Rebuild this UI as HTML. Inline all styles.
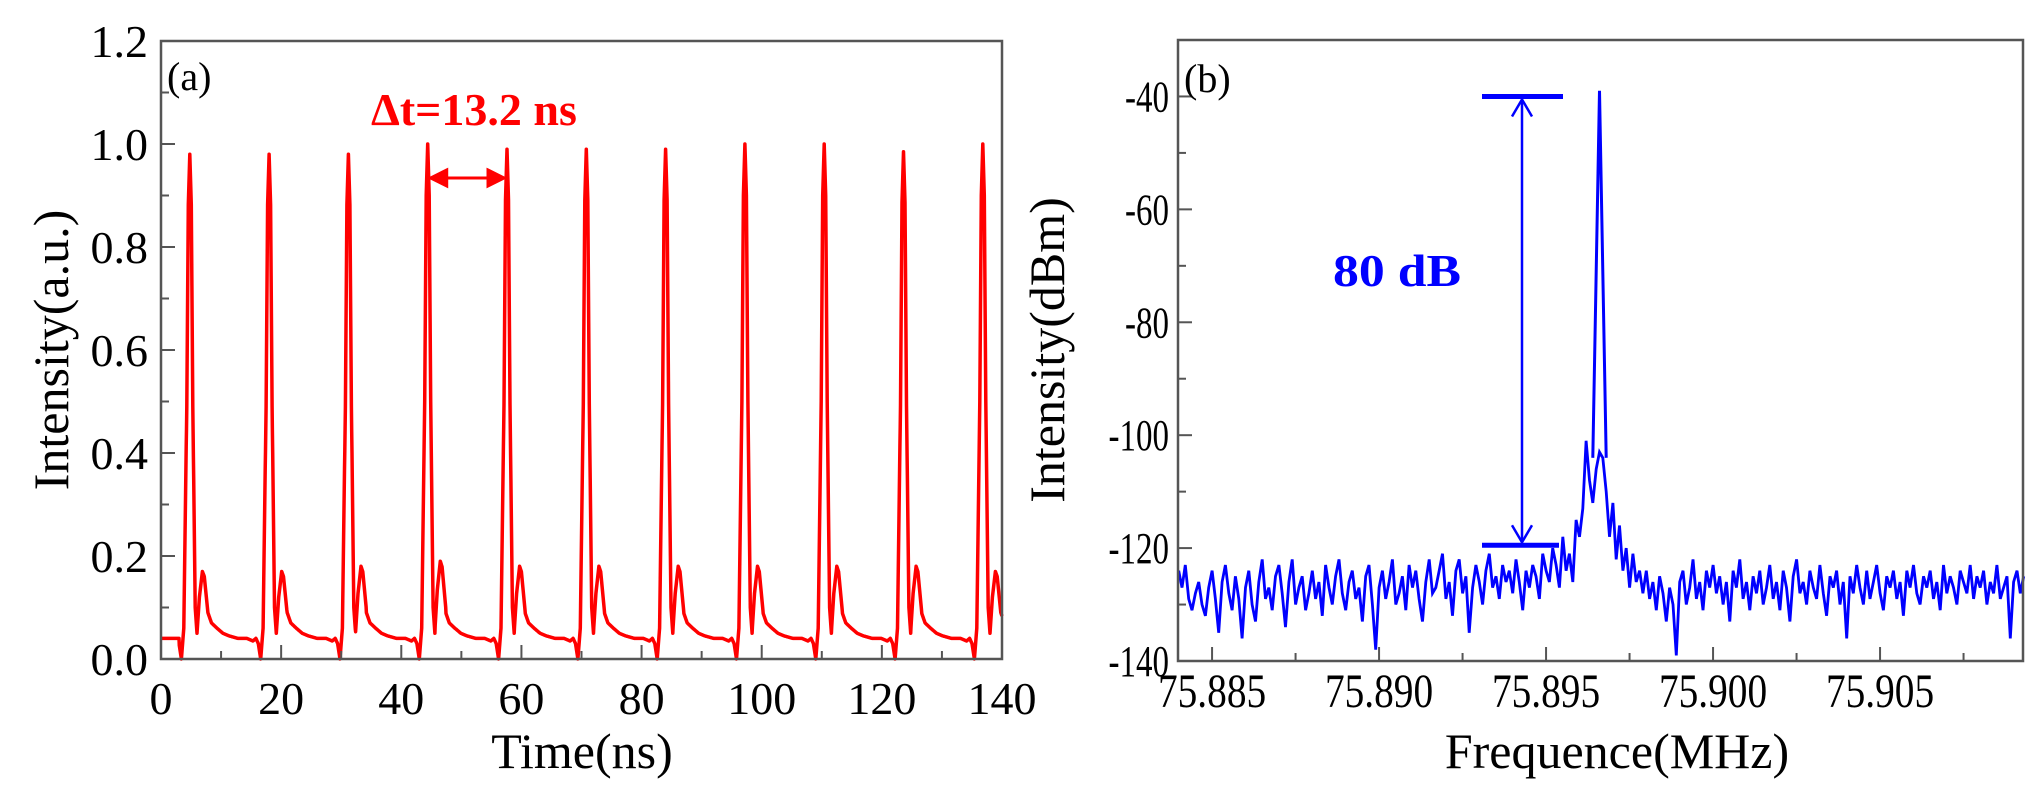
<!DOCTYPE html>
<html><head><meta charset="utf-8"><style>
html,body{margin:0;padding:0;background:#fff;}
svg{display:block;font-family:"Liberation Serif",serif;}
</style></head><body>
<svg id="fig" width="2044" height="803" viewBox="0 0 2044 803" xmlns="http://www.w3.org/2000/svg">
<g id="pa"></g>
<g id="pb"></g>
</svg>
<script>
// ---- Panel (a) data ----
const aXTicks = [0,20,40,60,80,100,120,140];
const aYTicks = [0.0,0.2,0.4,0.6,0.8,1.0,1.2];
const aYTickLabels = ["0.0","0.2","0.4","0.6","0.8","1.0","1.2"];
const peakTimes = [4.8,18.0,31.2,44.4,57.6,70.8,84.0,97.2,110.4,123.6,136.8];
const peakHeights = [0.98,0.98,0.98,1.0,0.99,0.99,0.99,1.0,1.0,0.985,1.0];
const satHeights = [0.17,0.17,0.18,0.19,0.18,0.18,0.18,0.18,0.18,0.18,0.17];
const tplDt = [-1.8,-1.4,-1.0,-0.5,-0.25,0,0.25,0.5,0.9,1.2,1.6,2.1,2.4,3.0,3.6,4.5,5.5,6.5,8,9.5,10.5,11.0,11.4];
const tplVal = [0.03,0.0,0.06,0.5,0.9,1,0.9,0.5,0.1,0.05,0.12,0.17,0.16,0.09,0.07,0.06,0.05,0.045,0.04,0.04,0.035,0.04,0.03];
// ---- Panel (b) data ----
const bXTicks = [75.885,75.890,75.895,75.900,75.905];
const bXTickLabels = ["75.885","75.890","75.895","75.900","75.905"];
const bYTicks = [-140,-120,-100,-80,-60,-40];
const noiseStart = 75.8840, noiseStep = 0.0001;
const noiseDb = [-124,-127,-123,-129,-131,-128,-126,-130,-132,-127,-124,-129,-135,-126,-123,-128,-131,-125,-129,-136,
-127,-124,-130,-133,-126,-122,-129,-127,-131,-125,-123,-128,-134,-126,-122,-130,-127,-125,-131,-128,
-124,-129,-126,-132,-123,-127,-130,-125,-122,-128,-131,-126,-124,-129,-127,-133,-125,-123,-130,-138,
-127,-124,-129,-126,-122,-130,-128,-125,-131,-123,-127,-124,-129,-133,-126,-122,-128,-127,-124,-121,
-129,-126,-132,-124,-122,-128,-125,-135,-127,-123,-126,-130,-124,-121,-127,-125,-129,-123,-126,-124,
-128,-122,-126,-131,-124,-127,-123,-125,-129,-121,-124,-126,-120,-123,-127,-118,-124,-121,-126,-115,
-118,-113,-101,-108,-112,-106,-103,-104,-110,-118,-112,-122,-116,-124,-120,-127,-121,-126,-124,-128,
-124,-129,-126,-131,-125,-128,-133,-127,-130,-139,-126,-124,-130,-127,-122,-129,-126,-131,-124,-127,
-123,-128,-125,-130,-126,-133,-124,-127,-122,-129,-126,-131,-125,-128,-124,-130,-127,-123,-129,-126,
-131,-124,-127,-133,-125,-122,-128,-126,-130,-124,-127,-129,-123,-128,-132,-125,-127,-124,-130,-126,
-136,-125,-128,-123,-127,-130,-124,-129,-126,-123,-128,-131,-125,-127,-124,-129,-126,-132,-124,-127,
-123,-128,-130,-125,-127,-124,-129,-126,-131,-123,-128,-125,-127,-130,-124,-126,-128,-123,-129,-125,
-127,-124,-130,-126,-128,-123,-129,-127,-125,-136,-126,-124,-128,-125];
const carrierF = [75.8964,75.8966,75.8968];
const carrierDb = [-104,-39,-104];

const NS="http://www.w3.org/2000/svg";
function mk(parent,tag,attrs,text){const e=document.createElementNS(NS,tag);for(const k in attrs)e.setAttribute(k,attrs[k]);if(text!==undefined)e.textContent=text;parent.appendChild(e);return e;}

// ---- Panel a ----
const pa=document.getElementById('pa');
const aL=161,aR=1002,aT=41,aB=659;
const ax=t=>aL+(t-0)/140*(aR-aL);
const ay=v=>aB-(v-0)/1.2*(aB-aT);
function tpl(dt){if(dt<tplDt[0]||dt>tplDt[tplDt.length-1])return null;for(let i=0;i<tplDt.length-1;i++){if(dt>=tplDt[i]&&dt<=tplDt[i+1]){const f=(dt-tplDt[i])/(tplDt[i+1]-tplDt[i]);return [tplVal[i]+f*(tplVal[i+1]-tplVal[i]),tplDt[i],tplDt[i+1]];}}return null;}
let dA="";
for(let t=0;t<=140.001;t+=0.05){
  let v=0.04;
  for(let i=0;i<peakTimes.length;i++){
    const dt=t-peakTimes[i];const r=tpl(dt);
    if(r){v=r[0];if(dt>-0.6&&dt<0.6)v*=peakHeights[i];else if(dt>1.2&&dt<3.0)v*=satHeights[i]/0.17;break;}
  }
  dA+=(dA?"L":"M")+ax(t).toFixed(1)+","+ay(v).toFixed(1);
}
const sa=mk(pa,'path',{d:dA,fill:'none',stroke:'#ff0000','stroke-width':3.5,'stroke-linejoin':'round'});


const fa=mk(pa,'rect',{x:aL,y:aT,width:aR-aL,height:aB-aT,fill:'none',stroke:'#555','stroke-width':2.5});


for(let t=0;t<=140;t+=10){const maj=t%20===0;mk(pa,'line',{x1:ax(t),x2:ax(t),y1:aB,y2:aB-(maj?14:8),stroke:'#555','stroke-width':2});}
for(let i=0;i<=12;i++){const v=i*0.1;const maj=i%2===0;mk(pa,'line',{x1:aL,x2:aL+(maj?14:8),y1:ay(v),y2:ay(v),stroke:'#555','stroke-width':2});}
aXTicks.forEach(t=>{const e=mk(pa,'text',{x:ax(t),y:714,'font-size':46,'text-anchor':'middle'},String(t));});
aYTicks.forEach((v,i)=>{const e=mk(pa,'text',{x:148,y:ay(v)+16,'font-size':46,'text-anchor':'end'},aYTickLabels[i]);});
let e;
e=mk(pa,'text',{x:582,y:768,'font-size':50,'text-anchor':'middle'},'Time(ns)');
e=mk(pa,'text',{x:0,y:0,'font-size':50,'text-anchor':'middle',transform:'translate(68,350) rotate(-90)'},'Intensity(a.u.)');
e=mk(pa,'text',{x:167,y:90,'font-size':40},'(a)');
e=mk(pa,'text',{x:371,y:125,'font-size':46,'font-weight':'bold',fill:'#ff0000'},'Δt=13.2 ns');
const arY=178,x1=ax(peakTimes[3])+3,x2=ax(peakTimes[4])-3;
e=mk(pa,'g',{stroke:'#ff0000','stroke-width':3,fill:'none'});
mk(e,'line',{x1:x1,x2:x2,y1:arY,y2:arY});
mk(e,'path',{d:`M${x1+16},${arY-8}L${x1},${arY}L${x1+16},${arY+8}Z`,fill:'#ff0000'});
mk(e,'path',{d:`M${x2-16},${arY-8}L${x2},${arY}L${x2-16},${arY+8}Z`,fill:'#ff0000'});

// ---- Panel b ----
const pb=document.getElementById('pb');
const bL=1178,bR=2023,bT=40,bB=661;
const bxMin=75.88398,bxMax=75.90928;
const bx=f=>bL+(f-bxMin)/(bxMax-bxMin)*(bR-bL);
const by=d=>bB-(d+140)/110*(bB-bT);
let dB="";
noiseDb.forEach((v,i)=>{const f=noiseStart+i*noiseStep;dB+=(dB?"L":"M")+bx(f).toFixed(1)+","+by(v).toFixed(1);});
const sb=mk(pb,'path',{d:dB,fill:'none',stroke:'#0000ff','stroke-width':2.8,'stroke-linejoin':'miter'});


let dC="";carrierF.forEach((f,i)=>{dC+=(dC?"L":"M")+bx(f).toFixed(1)+","+by(carrierDb[i]).toFixed(1);});
const sc=mk(pb,'path',{d:dC,fill:'none',stroke:'#0000ff','stroke-width':3});


const fb=mk(pb,'rect',{x:bL,y:bT,width:bR-bL,height:bB-bT,fill:'none',stroke:'#555','stroke-width':2.5});


for(let k=0;k<10;k++){const f=75.885+k*0.0025;if(f>bxMax)break;const maj=k%2===0;mk(pb,'line',{x1:bx(f),x2:bx(f),y1:bB,y2:bB-(maj?14:8),stroke:'#555','stroke-width':2});}
for(let d=-140;d<=-30;d+=10){const maj=d%20===0;mk(pb,'line',{x1:bL,x2:bL+(maj?14:8),y1:by(d),y2:by(d),stroke:'#555','stroke-width':2});}
bXTicks.forEach((f,i)=>{const t=mk(pb,'text',{x:bx(f),y:707,'font-size':48,'text-anchor':'middle',transform:`translate(${bx(f)*0.18},0) scale(0.82,1)`},bXTickLabels[i]);});
bYTicks.forEach(d=>{const t=mk(pb,'text',{x:1169,y:by(d)+15,'font-size':44,'text-anchor':'end',transform:`translate(${1169*0.25},0) scale(0.75,1)`},String(d));});
e=mk(pb,'text',{x:1617,y:768,'font-size':50,'text-anchor':'middle'},'Frequence(MHz)');
e=mk(pb,'text',{x:0,y:0,'font-size':50,'text-anchor':'middle',transform:'translate(1064,350) rotate(-90)'},'Intensity(dBm)');
e=mk(pb,'text',{x:1184,y:92,'font-size':40},'(b)');
e=mk(pb,'text',{x:1333,y:286,'font-size':46,'font-weight':'bold',fill:'#0000ff',textLength:128,lengthAdjust:'spacingAndGlyphs'},'80 dB');
e=mk(pb,'g',{stroke:'#0000ff',fill:'none'});
const axA=1522,yTop=by(-40),yBot=by(-119.5);
mk(e,'line',{x1:1482,x2:1563,y1:yTop,y2:yTop,'stroke-width':5});
mk(e,'line',{x1:1482,x2:1559,y1:yBot,y2:yBot,'stroke-width':5});
mk(e,'line',{x1:axA,x2:axA,y1:yTop+3,y2:yBot-3,'stroke-width':2.5});
mk(e,'path',{d:`M${axA-10},${yTop+20}L${axA},${yTop+3}L${axA+10},${yTop+20}`,'stroke-width':2.5});
mk(e,'path',{d:`M${axA-10},${yBot-20}L${axA},${yBot-3}L${axA+10},${yBot-20}`,'stroke-width':2.5});
</script>
</body></html>
